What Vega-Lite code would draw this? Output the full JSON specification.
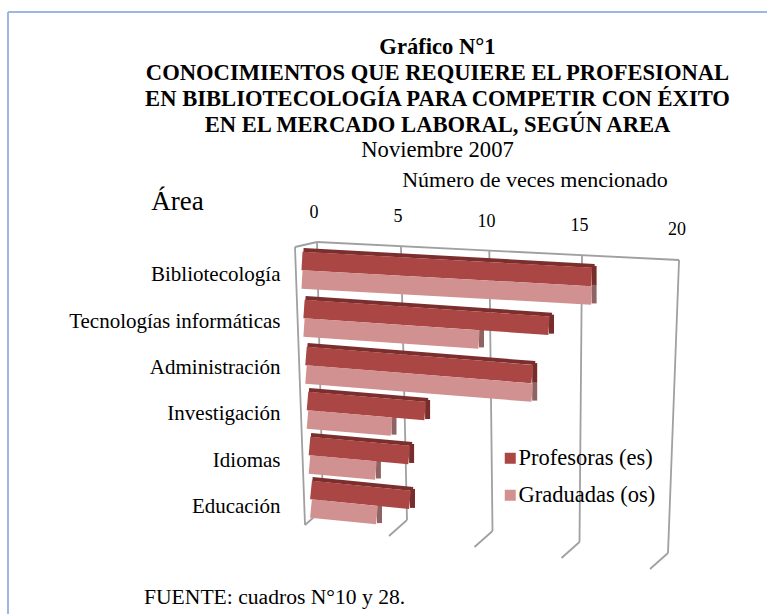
{
"$schema":"https://vega.github.io/schema/vega-lite/v6.json",
"width":767,"height":434,
"autosize":{"type":"none"},
"padding":{"left":0,"top":180,"right":0,"bottom":0},
"background":"white",
"view":{"stroke":null},
"title":{"text":["Gráfico N°1","CONOCIMIENTOS QUE REQUIERE EL PROFESIONAL","EN BIBLIOTECOLOGÍA PARA COMPETIR CON ÉXITO","EN EL MERCADO LABORAL, SEGÚN AREA"],"subtitle":"Noviembre 2007","font":"Liberation Serif","fontSize":22.6,"fontWeight":"bold","color":"#000000","lineHeight":26,"subtitleFont":"Liberation Serif","subtitleFontSize":22.6,"subtitleColor":"#000000","subtitlePadding":3,"anchor":"middle","dx":54,"offset":-151},
"config":{"font":"Liberation Serif"},
"datasets":{
"valores":[
{"area":"Bibliotecología","serie":"Profesoras (es)","valor":16},
{"area":"Bibliotecología","serie":"Graduadas (os)","valor":16},
{"area":"Tecnologías informáticas","serie":"Profesoras (es)","valor":14},
{"area":"Tecnologías informáticas","serie":"Graduadas (os)","valor":10},
{"area":"Administración","serie":"Profesoras (es)","valor":13},
{"area":"Administración","serie":"Graduadas (os)","valor":13},
{"area":"Investigación","serie":"Profesoras (es)","valor":7},
{"area":"Investigación","serie":"Graduadas (os)","valor":5},
{"area":"Idiomas","serie":"Profesoras (es)","valor":6},
{"area":"Idiomas","serie":"Graduadas (os)","valor":4},
{"area":"Educación","serie":"Profesoras (es)","valor":6},
{"area":"Educación","serie":"Graduadas (os)","valor":4}
],
"marcas":[{"v":0},{"v":5},{"v":10},{"v":15},{"v":20}],
"unico":[{"nota":"FUENTE: cuadros N°10 y 28.","eje":"Número de veces mencionado"}]
},
"resolve":{"scale":{"y":"independent"},"axis":{"y":"independent"}},
"layer":[
{
"encoding":{
"x":{"field":"xa","type":"quantitative","axis":null,"scale":{"domain":[-16.9444,25.6667]}},
"y":{"field":"ya","type":"quantitative","axis":null,"scale":{"domain":[614,180]}},
"x2":{"field":"xb"},"y2":{"field":"yb"}
},
"layer":[
{"data":{"name":"unico"},"transform":[{"calculate":"-16.5","as":"xa"},{"calculate":"25.6667","as":"xb"},{"calculate":"12","as":"ya"},{"calculate":"12","as":"yb"}],
 "mark":{"type":"rule","color":"#9db7e5","strokeWidth":2}},
{"data":{"name":"unico"},"transform":[{"calculate":"-16.5","as":"xa"},{"calculate":"-16.5","as":"xb"},{"calculate":"12","as":"ya"},{"calculate":"614","as":"yb"}],
 "mark":{"type":"rule","color":"#9db7e5","strokeWidth":2}},
{"data":{"name":"marcas"},
 "transform":[{"calculate":"datum.v/5","as":"t"},
  {"calculate":"(317+81.83*datum.t+2.17*datum.t*datum.t-305)/18","as":"xa"},
  {"calculate":"(323+83.25*datum.t+0.75*datum.t*datum.t-305)/18","as":"xb"},
  {"calculate":"242+0.9*datum.v","as":"ya"},
  {"calculate":"509+2.2*datum.v","as":"yb"}],
 "mark":{"type":"rule","color":"#a0a0a0","strokeWidth":1.8}},
{"data":{"name":"marcas"},
 "transform":[{"calculate":"datum.v/5","as":"t"},
  {"calculate":"(323+83.25*datum.t+0.75*datum.t*datum.t-305)/18","as":"xa"},
  {"calculate":"datum.xa-1","as":"xb"},
  {"calculate":"509+2.2*datum.v","as":"ya"},
  {"calculate":"datum.ya+16","as":"yb"}],
 "mark":{"type":"rule","color":"#a0a0a0","strokeWidth":1.8}},
{"data":{"name":"unico"},"transform":[{"calculate":"0.667","as":"xa"},{"calculate":"20.778","as":"xb"},{"calculate":"242","as":"ya"},{"calculate":"260","as":"yb"}],
 "mark":{"type":"rule","color":"#a0a0a0","strokeWidth":1.8}},
{"data":{"name":"unico"},"transform":[{"calculate":"0.667","as":"xa"},{"calculate":"-0.556","as":"xb"},{"calculate":"242","as":"ya"},{"calculate":"247","as":"yb"}],
 "mark":{"type":"rule","color":"#a0a0a0","strokeWidth":1.8}},
{"data":{"name":"unico"},"transform":[{"calculate":"-0.556","as":"xa"},{"calculate":"0","as":"xb"},{"calculate":"247","as":"ya"},{"calculate":"525","as":"yb"}],
 "mark":{"type":"rule","color":"#a0a0a0","strokeWidth":1.8}},
{"data":{"name":"valores"},
 "transform":[
  {"calculate":"indexof(['Bibliotecología','Tecnologías informáticas','Administración','Investigación','Idiomas','Educación'],datum.area)","as":"i"},
  {"calculate":"datum.serie==='Graduadas (os)'?1:0","as":"g"},
  {"calculate":"[302,304,306,307.5,309.5,311][datum.i]","as":"p0"},
  {"calculate":"datum.p0+[18.1,17.5,17.4,16.8,16.6,16.5][datum.i]*datum.valor","as":"p1"},
  {"calculate":"[252,300,347,392,437,481][datum.i]+18.5*datum.g+9","as":"y0"},
  {"calculate":"datum.y0+[0.055,0.068,0.08,0.085,0.09,0.1][datum.i]*(datum.p1-datum.p0)","as":"y1"}
 ],
 "layer":[
  {"transform":[{"filter":"datum.g===1"},{"calculate":"(datum.p1+2.5-305)/18","as":"xa"},{"calculate":"datum.xa","as":"xb"},{"calculate":"datum.y1-11","as":"ya"},{"calculate":"datum.y1+8","as":"yb"}],
   "mark":{"type":"rule","strokeWidth":5,"color":"#8f6363"}},
  {"transform":[{"filter":"datum.g===0"},{"calculate":"(datum.p1+2.5-305)/18","as":"xa"},{"calculate":"datum.xa","as":"xb"},{"calculate":"datum.y1-11","as":"ya"},{"calculate":"datum.y1+8","as":"yb"}],
   "mark":{"type":"rule","strokeWidth":5,"color":"#772d2c"}},
  {"transform":[{"filter":"datum.g===0"},{"calculate":"(datum.p0+1.5-305)/18","as":"xa"},{"calculate":"(datum.p1+3-305)/18","as":"xb"},{"calculate":"datum.y0-11","as":"ya"},{"calculate":"datum.y1-11","as":"yb"}],
   "mark":{"type":"rule","strokeWidth":4,"color":"#7b2e2e"}},
  {"transform":[{"calculate":"(datum.p0-305)/18","as":"xa"},{"calculate":"(datum.p1-305)/18","as":"xb"},{"calculate":"datum.y0","as":"ya"},{"calculate":"datum.y1","as":"yb"}],
   "mark":{"type":"rule","strokeWidth":18.5},
   "encoding":{"color":{"field":"serie","type":"nominal","scale":{"domain":["Profesoras (es)","Graduadas (os)"],"range":["#aa4643","#d09190"]},
    "legend":{"orient":"none","legendX":499,"legendY":267,"title":null,"symbolType":"square","symbolSize":25,"symbolStrokeWidth":6,"labelFont":"Liberation Serif","labelFontSize":22.5,"labelColor":"#000000","rowPadding":7,"labelOffset":-3}}}}
 ]},
{"data":{"name":"marcas"},
 "transform":[{"calculate":"datum.v/5","as":"t"},
  {"calculate":"(314+81.75*datum.t+2.25*datum.t*datum.t-305)/18","as":"xa"},
  {"calculate":"213+0.85*datum.v","as":"ya"}],
 "mark":{"type":"text","font":"Liberation Serif","fontSize":18,"color":"#000000"},
 "encoding":{"text":{"field":"v","type":"quantitative"},"x2":null,"y2":null}},
{"data":{"name":"unico"},
 "transform":[{"calculate":"-8.944","as":"xa"},{"calculate":"598","as":"ya"}],
 "mark":{"type":"text","font":"Liberation Serif","fontSize":21.6,"color":"#000000","align":"left"},
 "encoding":{"text":{"field":"nota","type":"nominal"},"x2":null,"y2":null}},
{"data":{"name":"unico"},
 "transform":[{"calculate":"12.778","as":"xa"},{"calculate":"180","as":"ya"}],
 "mark":{"type":"text","font":"Liberation Serif","fontSize":22,"color":"#000000","align":"center"},
 "encoding":{"text":{"field":"eje","type":"nominal"},"x2":null,"y2":null}}
]
},
{
"data":{"name":"valores"},
"mark":{"type":"point","opacity":0},
"encoding":{
"x":{"field":"valor","type":"quantitative","axis":null,"scale":{"domain":[-16.9444,25.6667]}},
"y":{"field":"area","type":"nominal","sort":null,"scale":{"type":"band","domain":["Bibliotecología","Tecnologías informáticas","Administración","Investigación","Idiomas","Educación"],"range":[72,350]},
 "axis":{"orient":"left","offset":-280,"ticks":false,"domain":false,"grid":false,"labelFont":"Liberation Serif","labelFontSize":21,"labelColor":"#000000","labelPadding":0,"labelLimit":300,"title":"Área","titleFont":"Liberation Serif","titleFontSize":27,"titleFontWeight":"normal","titleColor":"#000000","titleAngle":0,"titleX":-103,"titleY":21,"titleAlign":"center","titleBaseline":"middle"}}
}
}
]
}
